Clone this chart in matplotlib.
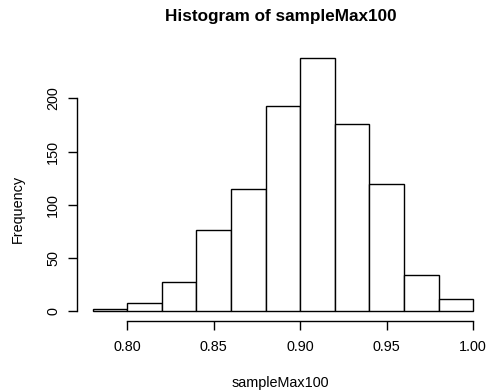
import matplotlib
matplotlib.use("Agg")
import matplotlib.pyplot as plt
import numpy as np

plt.rcParams['font.family'] = ['Liberation Sans', 'DejaVu Sans']

bin_edges = [0.78, 0.80, 0.82, 0.84, 0.86, 0.88, 0.90, 0.92, 0.94, 0.96, 0.98, 1.00]
counts = [2, 8, 27, 76, 115, 193, 238, 176, 120, 34, 11]
x_ticks = [0.80, 0.85, 0.90, 0.95, 1.00]
x_tick_labels = ["0.80", "0.85", "0.90", "0.95", "1.00"]
y_ticks = [0, 50, 100, 150, 200]
y_tick_labels = ["0", "50", "100", "150", "200"]

fig = plt.figure(figsize=(4.89, 3.92), dpi=100)
ax = fig.add_axes([77.5/489, (392-321.3)/392, (488.4-77.5)/489, (321.3-47.9)/392])

lefts = bin_edges[:-1]
widths = np.diff(bin_edges)
ax.bar(lefts, counts, width=widths, align='edge', facecolor='white',
       edgecolor='black', linewidth=1.0)

xlo, xhi = bin_edges[0], bin_edges[-1]
xr = xhi - xlo
ax.set_xlim(xlo - 0.04*xr, xhi + 0.04*xr)
ymax = max(counts)
ax.set_ylim(-0.04*ymax, ymax*1.04)

for s in ax.spines.values():
    s.set_visible(False)

# R-style axis lines spanning first to last tick
ax.plot([x_ticks[0], x_ticks[-1]], [0, 0], transform=ax.get_xaxis_transform(),
        color='black', lw=1.0, clip_on=False)
ax.plot([0, 0], [y_ticks[0], y_ticks[-1]], transform=ax.get_yaxis_transform(),
        color='black', lw=1.0, clip_on=False)

ax.set_xticks(x_ticks)
ax.set_xticklabels(x_tick_labels)
ax.set_yticks(y_ticks)
ax.set_yticklabels(y_tick_labels, rotation=90, va='center')
ax.tick_params(axis='both', direction='out', length=6.5, width=1.0, labelsize=10.4, colors='black')
ax.tick_params(axis='x', pad=7)
ax.tick_params(axis='y', pad=6)

fig.text(281/489, 1 - 16/392, "Histogram of sampleMax100", ha='center', va='center',
         fontsize=12.3, fontweight='bold')
fig.text(280.5/489, 1 - 383/392, "sampleMax100", ha='center', va='center', fontsize=10.4)
fig.text(17.5/489, 1 - 209/392, "Frequency", ha='center', va='center', fontsize=10.4, rotation=90)

fig.savefig("out.png", dpi=100)
